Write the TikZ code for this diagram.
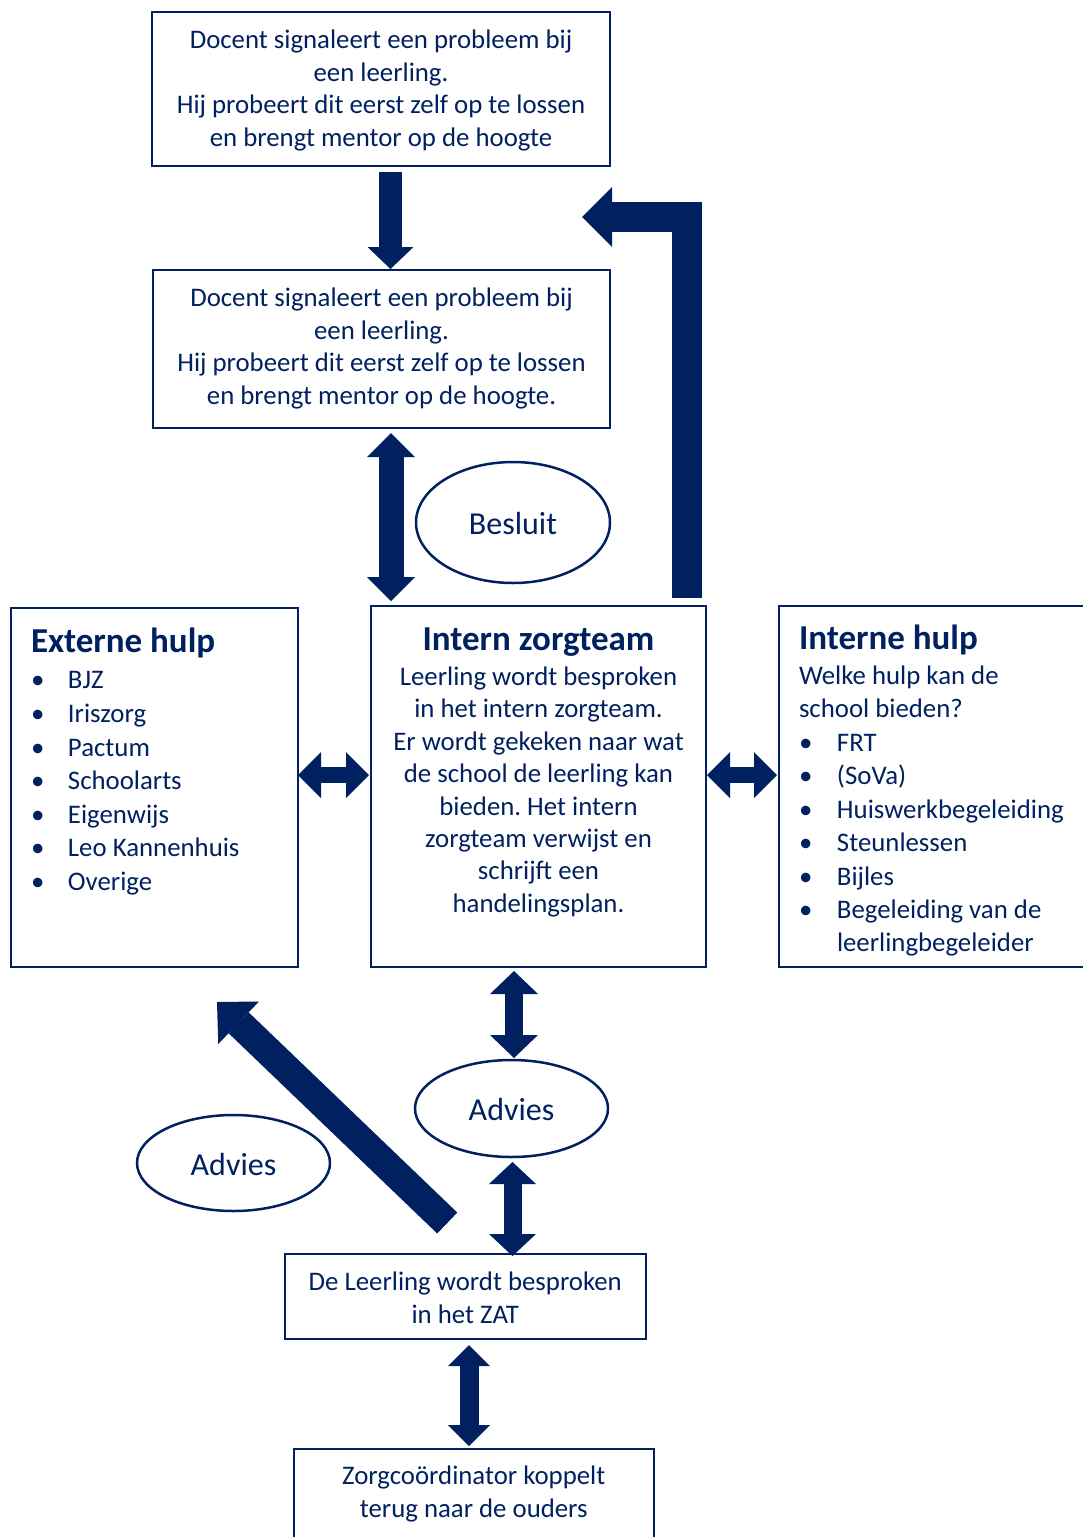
\documentclass[tikz,border=0pt]{standalone}
\usepackage{fontspec}
\setmainfont{Carlito}
\usetikzlibrary{arrows.meta,shapes.geometric,calc}
\definecolor{navy}{HTML}{002060}
\frenchspacing
\newcommand\fl{\rule{0pt}{22pt}}
\newcommand\fh{\rule{0pt}{26pt}}
\newcommand\bulA{\makebox[37pt][l]{\textbullet}}
\newcommand\bulB{\makebox[38pt][l]{\textbullet}}
\newcommand\hd[1]{{\bfseries\fontsize{35}{40}\selectfont #1}}
\begin{document}
\begin{tikzpicture}[x=1pt,y=-1pt,
 box/.style={rectangle,draw=navy,line width=2pt,inner sep=0pt,outer sep=0pt},
 oval/.style={ellipse,draw=navy,line width=2.5pt,inner sep=0pt,outer sep=0pt,text=navy,text height=24pt,text depth=0pt,font=\fontsize{32}{36}\selectfont},
 txt/.style={text=navy,inner sep=0pt,outer sep=0pt,font=\fontsize{26.8}{32.5}\selectfont},
 blk/.style={draw=navy,line join=miter}]
\useasboundingbox (0,0) rectangle (1083,1537);
\clip (0,0) rectangle (1083,1537);
% boxes
\node[box,minimum width=458pt,minimum height=154pt] (b1) at (381,89) {};
\node[box,minimum width=457pt,minimum height=158pt] (b2) at (381.5,349) {};
\node[box,minimum width=287pt,minimum height=359pt] (ext) at (154.5,787.5) {};
\node[box,minimum width=335pt,minimum height=361pt] (zorg) at (538.5,786.5) {};
\node[box,minimum width=340pt,minimum height=361pt] (int) at (949,786.5) {};
\node[box,minimum width=361.5pt,minimum height=85pt] (zat) at (465.25,1296.5) {};
\node[box,minimum width=360.5pt,minimum height=100pt] (bot) at (473.75,1499) {};
% ellipses
\node[oval,minimum width=194pt,minimum height=121pt] (besluit) at (513,522.5) {Besluit};
\node[oval,minimum width=193pt,minimum height=97pt] (adv1) at (511.5,1108.5) {Advies};
\node[oval,minimum width=193pt,minimum height=96pt] (adv2) at (233.5,1163) {Advies};
% texts
\node[txt,anchor=north,align=center] (t1) at (381,26.5) {\fl Docent signaleert een probleem bij\\een leerling.\\Hij probeert dit eerst zelf op te lossen\\en brengt mentor op de hoogte};
\node[txt,anchor=north,align=center] (t2) at (381.5,284.5) {\fl Docent signaleert een probleem bij\\een leerling.\\Hij probeert dit eerst zelf op te lossen\\en brengt mentor op de hoogte.};
\node[txt,anchor=north,align=center,font=\fontsize{26.8}{32.4}\selectfont] (tz) at (538.5,624.5) {\fh\hd{Intern zorgteam}\\[2.6pt]Leerling wordt besproken\\in het intern zorgteam.\\Er wordt gekeken naar wat\\de school de leerling kan\\bieden. Het intern\\zorgteam verwijst en\\schrijft een\\handelingsplan.};
\node[txt,anchor=north west,align=left,font=\fontsize{26.8}{33.6}\selectfont] (te) at (31,626.2) {\fh\hd{Externe hulp}\\[3pt]\bulA BJZ\\\bulA Iriszorg\\\bulA Pactum\\\bulA Schoolarts\\\bulA Eigenwijs\\\bulA Leo Kannenhuis\\\bulA Overige};
\node[txt,anchor=north west,align=left,font=\fontsize{26.8}{33.5}\selectfont] (ti) at (799,623.8) {\fh\hd{Interne hulp}\\[1.5pt]Welke hulp kan de\\[-1.1pt]school bieden?\\[0.5pt]\bulB FRT\\\bulB (SoVa)\\\bulB Huiswerkbegeleiding\\\bulB Steunlessen\\\bulB Bijles\\\bulB Begeleiding van de\\[-1pt]\makebox[38pt]{}leerlingbegeleider};
\node[txt,anchor=north,align=center] (tzat) at (465.25,1268.5) {\fl De Leerling wordt besproken\\in het ZAT};
\node[txt,anchor=north,align=center] (tbot) at (473.75,1462.8) {\fl Zorgcoördinator koppelt\\terug naar de ouders};
% block arrows
\draw[blk,line width=23pt,-{Triangle[length=22pt,width=46pt,line width=0pt]}] ($(b1.south)+(9.5,6)$) -- ($(b2.north)+(9,-1)$);
\draw[blk,line width=25pt,{Triangle[length=24pt,width=48pt,line width=0pt]}-{Triangle[length=24pt,width=48pt,line width=0pt]}] ($(b2.south)+(9.5,5)$) -- ($(b2.south|-zorg.north)+(9.5,-5)$);
\coordinate (bt) at ($(b1.south east)!0.5!(b2.north east)+(-28,-1)$);
\draw[blk,line width=30pt,-{Triangle[length=30pt,width=60pt,line width=0pt]}] ($(zorg.north east)+(-19,-8)$) |- (bt);
\draw[blk,line width=16pt,{Triangle[length=23pt,width=46pt,line width=0pt]}-{Triangle[length=23pt,width=46pt,line width=0pt]}] ($(ext.east)+(0,-12.5)$) -- ($(zorg.west)+(-2,-11.5)$);
\draw[blk,line width=16pt,{Triangle[length=23pt,width=46pt,line width=0pt]}-{Triangle[length=23pt,width=46pt,line width=0pt]}] ($(zorg.east)+(1,-11.5)$) -- ($(int.west)+(-2,-11.5)$);
\draw[blk,line width=18pt,{Triangle[length=23pt,width=48pt,line width=0pt]}-{Triangle[length=23pt,width=48pt,line width=0pt]}] ($(zorg.south)+(-24.5,4)$) -- ($(adv1.north)+(2.5,-2)$);
\draw[blk,line width=18pt,{Triangle[length=22pt,width=47pt,line width=0pt]}-{Triangle[length=22pt,width=47pt,line width=0pt]}] ($(adv1.south)+(1,5)$) -- ($(adv1.south|-zat.north)+(1,2)$);
\draw[blk,line width=19pt,{Triangle[length=21pt,width=42pt,line width=0pt]}-{Triangle[length=21pt,width=42pt,line width=0pt]}] ($(zat.south)+(3.75,6)$) -- ($(zat.south|-bot.north)+(3.75,-3)$);
\draw[blk,line width=29pt,-{Triangle[length=30pt,width=59pt,line width=0pt]}] ($(zat.north)+(-18,-31)$) -- ($(ext.south west)+(206,35)$);
\end{tikzpicture}
\end{document}
